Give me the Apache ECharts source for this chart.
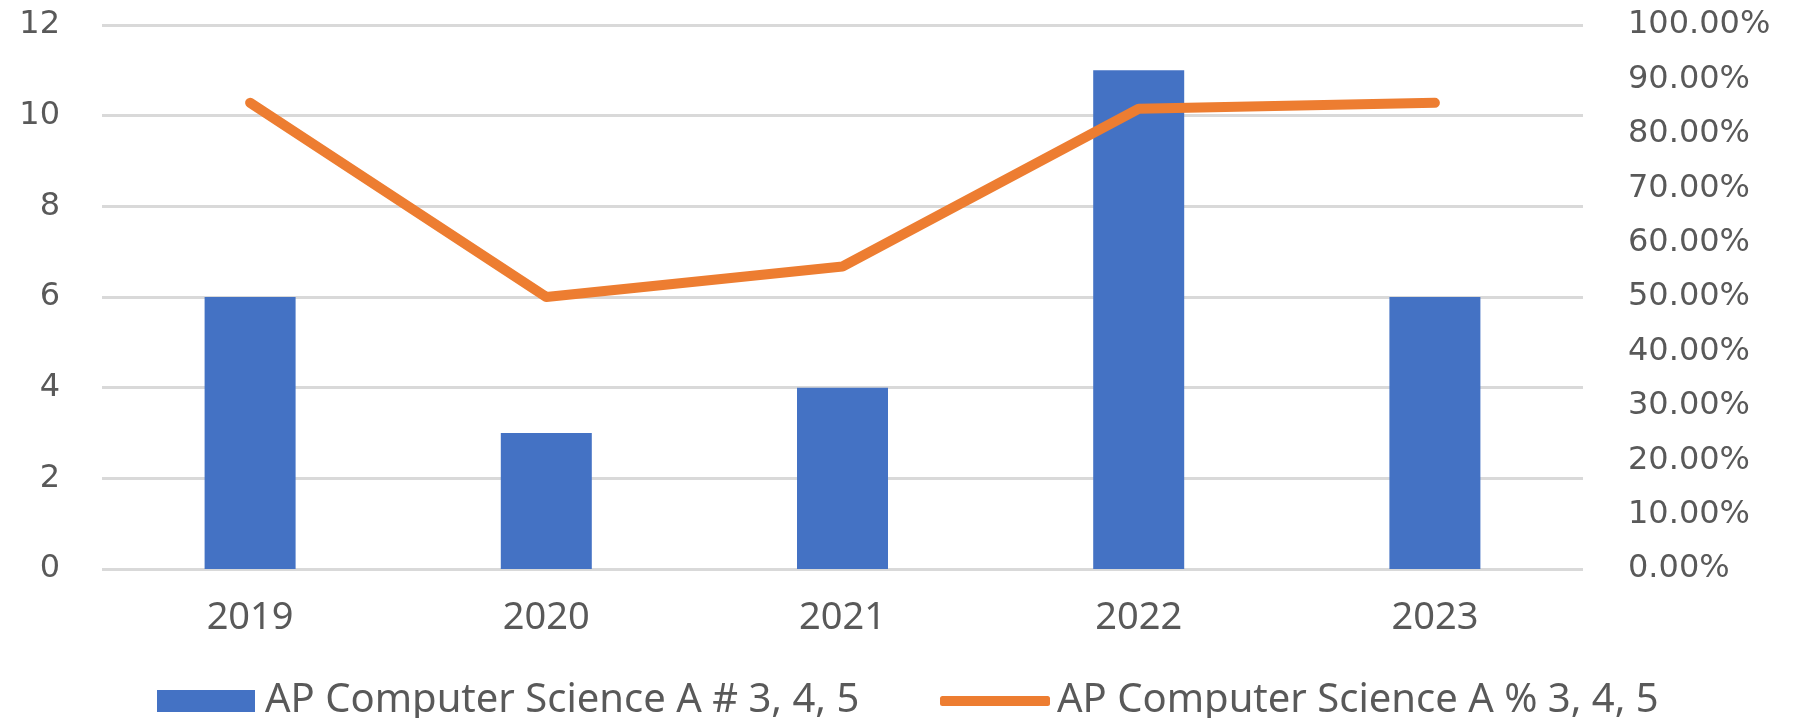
<!DOCTYPE html>
<html>
<head>
<meta charset="utf-8">
<script src="https://cdn.jsdelivr.net/npm/echarts@6/dist/echarts.min.js"></script>
<style>
  html, body { margin: 0; padding: 0; background: #fff; }
  #chart { width: 1793px; height: 718px; }
</style>
</head>
<body>
<div id="chart"></div>
<script>
// chart data
const years = ['2019', '2020', '2021', '2022', '2023'];
const countValues = [6, 3, 4, 11, 6];
const pctValues = [0.857, 0.5, 0.556, 0.846, 0.857];
const countName = 'AP Computer Science A # 3, 4, 5';
const pctName = 'AP Computer Science A % 3, 4, 5';

const labelColor = '#595959';

let myChart = echarts.init(document.getElementById('chart'));
let options = {
  animation: false,
  backgroundColor: '#fff',
  grid: { left: 102, right: 210, top: 25, bottom: 149 },
  legend: [
    {
      data: [countName],
      left: 157, top: 681, padding: 0,
      itemWidth: 98, itemHeight: 22, icon: 'rect',
      textStyle: { fontFamily: 'Noto Sans', fontSize: 40, color: labelColor, lineHeight: 40, padding: [0, 0, 0, 5] }
    },
    {
      data: [pctName],
      left: 940, top: 681, padding: 0,
      itemWidth: 110, itemHeight: 10, icon: 'roundRect',
      textStyle: { fontFamily: 'Noto Sans', fontSize: 40, color: labelColor, lineHeight: 40, padding: [0, 0, 0, 2] }
    }
  ],
  xAxis: {
    type: 'category',
    data: years,
    axisLine: { show: false },
    axisTick: { show: false },
    axisLabel: { fontFamily: 'Noto Sans', fontSize: 38, color: labelColor, margin: 30 }
  },
  yAxis: [
    {
      type: 'value', min: 0, max: 12, interval: 2,
      axisLine: { show: false },
      axisTick: { show: false },
      splitLine: { lineStyle: { color: '#d9d9d9', width: 3 } },
      axisLabel: { fontFamily: 'DejaVu Sans', fontSize: 32, color: labelColor, margin: 42 }
    },
    {
      type: 'value', min: 0, max: 1, interval: 0.1,
      axisLine: { show: false },
      axisTick: { show: false },
      splitLine: { show: false },
      axisLabel: {
        fontFamily: 'DejaVu Sans', fontSize: 32, color: labelColor, margin: 45,
        formatter: v => (v * 100).toFixed(2) + '%'
      }
    }
  ],
  series: [
    {
      name: countName,
      type: 'bar',
      data: countValues,
      barWidth: 91,
      itemStyle: { color: '#4472C4' }
    },
    {
      name: pctName,
      type: 'line',
      yAxisIndex: 1,
      data: pctValues,
      symbol: 'none',
      z: 5,
      itemStyle: { color: '#ED7D31' },
      lineStyle: { color: '#ED7D31', width: 10, cap: 'round', join: 'round' }
    }
  ]
};
myChart.setOption(options);
</script>
</body>
</html>
